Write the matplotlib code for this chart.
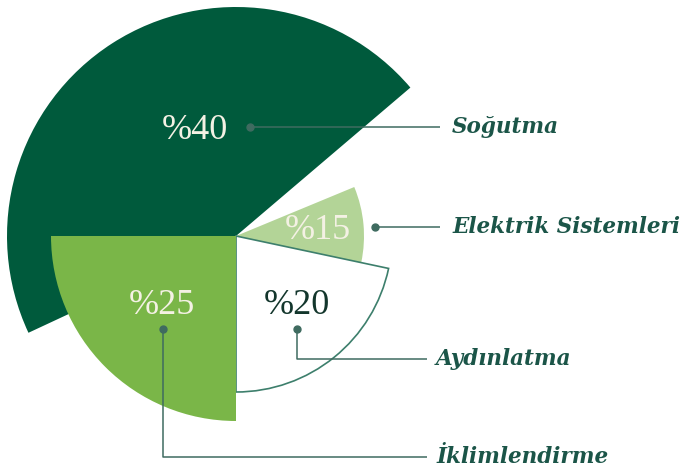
import matplotlib
matplotlib.use("Agg")
import matplotlib.pyplot as plt
from matplotlib.patches import Wedge

# data
categories = ["Soğutma", "Elektrik Sistemleri", "Aydınlatma", "İklimlendirme"]
shares = [40, 15, 20, 25]
pct_labels = ["%" + str(s) for s in shares]

# drawing layout (pixel units, y up)
cx, cy = 236, 233
theta1 = [40.4, -12.0, -90.0, 180.0]
theta2 = [205.0, 22.5, -12.0, 270.0]
radii = [229, 128, 156, 185]
fills = ["#005a3c", "#b3d497", "white", "#7ab648"]
edges = ["none", "none", "#3d7f6c", "none"]
pct_pos = [(195, 339), (318, 239), (297, 164), (162, 164)]
pct_col = ["#f4f1e4", "#f4f1e4", "#13362c", "#f4f1e4"]

line_col = "#3f6b60"
text_col = "#1b5548"

fig = plt.figure(figsize=(6.87, 4.69), dpi=100)
ax = fig.add_axes([0, 0, 1, 1])
ax.set_xlim(0, 687)
ax.set_ylim(0, 469)
ax.axis("off")

for i in range(4):
    w = Wedge((cx, cy), radii[i], theta1[i], theta2[i],
              facecolor=fills[i], edgecolor=edges[i], linewidth=1.2, zorder=1 + i)
    ax.add_patch(w)

for i in range(4):
    ax.text(pct_pos[i][0], pct_pos[i][1], pct_labels[i], color=pct_col[i],
            fontsize=26, family="Liberation Serif", ha="center", va="center", zorder=10)

# leader lines: dot first, text at the last point
leaders = [
    [(250, 342), (440, 342)],
    [(375, 242), (440, 242)],
    [(297, 140), (297, 110), (427, 110)],
    [(163, 140), (163, 12), (427, 12)],
]
text_x = [452, 452, 436, 436]
for i, pts in enumerate(leaders):
    xs = [p[0] for p in pts]
    ys = [p[1] for p in pts]
    ax.plot(xs, ys, color=line_col, lw=1.1, zorder=11, solid_capstyle="butt")
    ax.plot(xs[0], ys[0], "o", color=line_col, ms=5, zorder=12)
    ax.text(text_x[i], ys[-1], categories[i], color=text_col, fontsize=15.5,
            family="DejaVu Serif", fontstyle="italic", fontweight="bold",
            ha="left", va="center", zorder=12)

fig.savefig("out.png", dpi=100)
